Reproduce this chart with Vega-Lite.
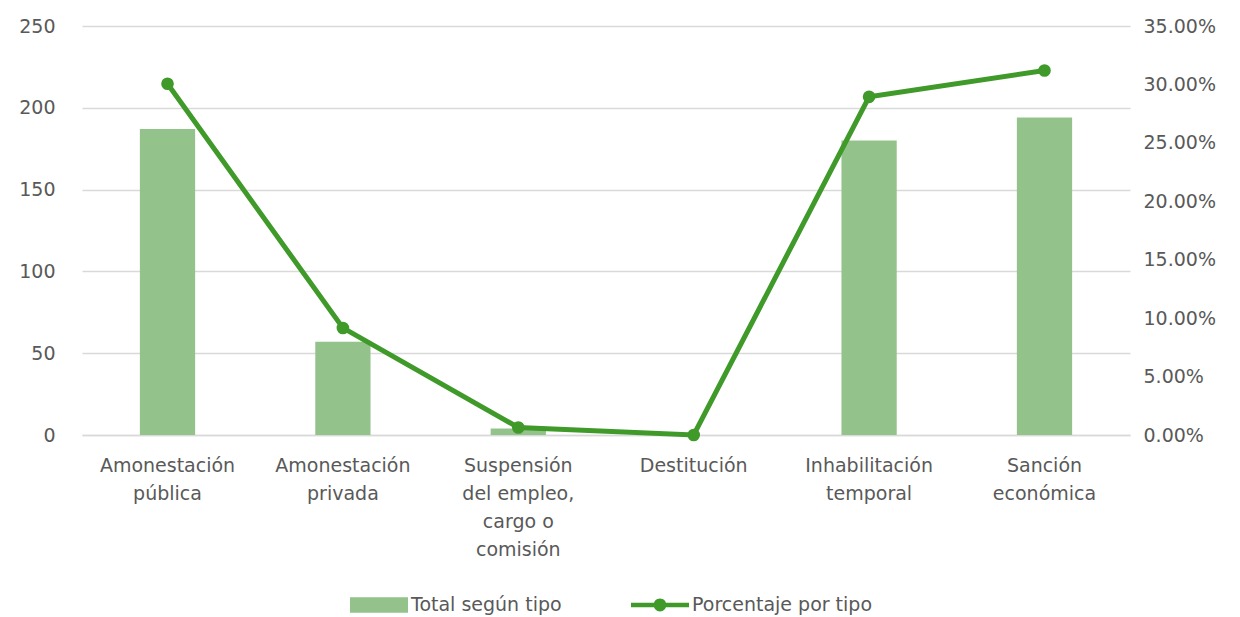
{
  "$schema": "https://vega.github.io/schema/vega-lite/v6.json",
  "autosize": {"type": "none"},
  "width": 1048,
  "height": 409,
  "padding": {"left": 82, "top": 26, "right": 110, "bottom": 182},
  "background": "white",
  "config": {
    "view": {"stroke": null},
    "font": "DejaVu Sans",
    "axis": {"labelFont": "DejaVu Sans", "labelFontSize": 19, "labelColor": "#595959"},
    "legend": {"labelFont": "DejaVu Sans", "labelFontSize": 19, "labelColor": "#595959"}
  },
  "data": {
    "values": [
      {"Tipo": "Amonestación pública", "Total": 187, "Porcentaje": 0.3006},
      {"Tipo": "Amonestación privada", "Total": 57, "Porcentaje": 0.0916},
      {"Tipo": "Suspensión del empleo, cargo o comisión", "Total": 4, "Porcentaje": 0.0064},
      {"Tipo": "Destitución", "Total": 0, "Porcentaje": 0.0},
      {"Tipo": "Inhabilitación temporal", "Total": 180, "Porcentaje": 0.2894},
      {"Tipo": "Sanción económica", "Total": 194, "Porcentaje": 0.3119}
    ]
  },
  "encoding": {
    "x": {
      "field": "Tipo",
      "type": "nominal",
      "sort": null,
      "scale": {"paddingInner": 0.685, "paddingOuter": 0.33},
      "axis": {
        "title": null,
        "labelAngle": 0,
        "ticks": false,
        "domainColor": "#d9d9d9",
        "domainWidth": 1.5,
        "labelPadding": 21,
        "labelLineHeight": 28,
        "labelExpr": "datum.value == 'Suspensión del empleo, cargo o comisión' ? ['Suspensión', 'del empleo,', 'cargo o', 'comisión'] : split(datum.value, ' ')"
      }
    }
  },
  "layer": [
    {
      "mark": {"type": "bar", "color": "#93c38a"},
      "encoding": {
        "y": {
          "field": "Total",
          "type": "quantitative",
          "scale": {"domain": [0, 250], "nice": false},
          "axis": {
            "title": null,
            "values": [0, 50, 100, 150, 200, 250],
            "domain": false,
            "ticks": false,
            "labelPadding": 27,
            "gridColor": "#d9d9d9",
            "gridWidth": 1.5
          }
        },
        "color": {
          "datum": "Total según tipo",
          "type": "nominal",
          "scale": {"domain": ["Total según tipo", "Porcentaje por tipo"], "range": ["#93c38a", "#3f9a2a"]},
          "legend": {
            "title": null,
            "orient": "none",
            "direction": "horizontal",
            "legendX": 268,
            "legendY": 550,
            "symbolSize": 3364,
            "symbolStrokeWidth": 0,
            "labelOffset": 3,
            "labelLimit": 0,
            "columnPadding": 69,
            "padding": 0,
            "encode": {
              "symbols": {
                "update": {
                  "shape": {"signal": "datum.value == 'Total según tipo' ? 'M-1,-0.27L1,-0.27L1,0.27L-1,0.27Z' : 'M-1,-0.08L1,-0.08L1,0.08L-1,0.08Z M0.22,0 A0.22,0.22 0 1 1 -0.22,0 A0.22,0.22 0 1 1 0.22,0 Z'"},
                  "fill": {"signal": "datum.value == 'Total según tipo' ? '#93c38a' : '#3f9a2a'"},
                  "fillOpacity": {"value": 1},
                  "strokeWidth": {"value": 0}
                }
              }
            }
          }
        }
      }
    },
    {
      "mark": {"type": "line", "color": "#3f9a2a", "strokeWidth": 5, "point": {"filled": true, "size": 160, "color": "#3f9a2a"}},
      "encoding": {
        "y": {
          "field": "Porcentaje",
          "type": "quantitative",
          "scale": {"domain": [0, 0.35], "nice": false},
          "axis": {
            "title": null,
            "orient": "right",
            "format": ".2%",
            "values": [0, 0.05, 0.1, 0.15, 0.2, 0.25, 0.3, 0.35],
            "domain": false,
            "ticks": false,
            "grid": false,
            "labelPadding": 13
          }
        },
        "color": {"datum": "Porcentaje por tipo", "type": "nominal"}
      }
    }
  ],
  "resolve": {"scale": {"y": "independent"}}
}
